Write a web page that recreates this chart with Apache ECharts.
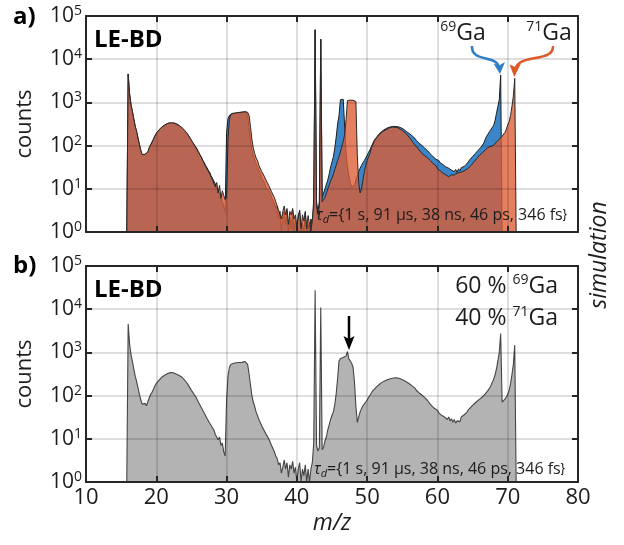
<!DOCTYPE html>
<html><head><meta charset="utf-8">
<script src="https://cdn.jsdelivr.net/npm/echarts/dist/echarts.min.js"></script>
<style>html,body{margin:0;padding:0;background:#fff}#c{width:624px;height:545px}</style>
</head><body><div id="c"></div>
<script>
// histogram bins: first bin centre and bin width (m/z)
const mzStart = 15.8;
const binWidth = 0.2;

// panel b: simulated mixture 60 % 69Ga / 40 % 71Ga (counts per bin)
const countsTotal = [
  1, 4570, 1585, 891, 631, 417, 282, 214, 151, 107,
  79, 63, 59, 66, 58, 72, 89, 107, 120, 141,
  166, 191, 209, 229, 251, 269, 282, 295, 309, 324,
  331, 340, 328, 338, 333, 318, 314, 297, 280, 270,
  245, 231, 210, 193, 170, 153, 132, 122, 106, 95,
  86, 70, 64, 53, 48, 40, 36, 30, 28, 23,
  21, 18, 16, 12.6, 14, 9.5, 11, 7, 8, 5,
  4, 79, 282, 447, 525, 550, 562, 562, 575, 575,
  585, 592, 588, 600, 618, 605, 525, 316, 178, 100,
  71, 56, 42, 38, 28, 26, 20, 18, 15, 13,
  12, 10, 9, 7, 6.6, 5, 4, 3.5, 2.5, 2.8,
  1.6, 2.2, 3.2, 2, 2.8, 1.3, 2.5, 2, 3, 1.6,
  2.2, 1, 2, 2.8, 1, 2, 1.4, 2.5, 1, 2,
  1, 2, 2.8, 8, 27500, 7, 5.2, 6.3, 11000, 5.6,
  6.3, 9, 11, 16, 21, 28, 35, 42, 63, 112,
  251, 631, 724, 776, 759, 794, 832, 1047, 708, 631,
  562, 447, 200, 56, 24, 32, 42, 50, 58, 63,
  71, 79, 91, 102, 115, 129, 141, 151, 162, 174,
  182, 197, 202, 216, 217, 231, 232, 242, 244, 252,
  248, 258, 250, 255, 247, 242, 236, 226, 220, 207,
  199, 188, 175, 168, 152, 149, 133, 127, 115, 111,
  103, 93, 90, 81, 77, 69, 67, 58, 57, 50,
  48, 46, 40, 42, 35, 37, 32, 34, 28, 32,
  26, 29, 24, 28, 23, 26, 28, 25, 32, 30,
  36, 40, 41, 47, 49, 55, 58, 64, 67, 73,
  78, 83, 89, 93, 100, 110, 120, 132, 148, 170,
  200, 240, 302, 417, 631, 1000, 2750, 71, 76, 83,
  93, 107, 132, 186, 302, 525, 1480, 1
];

// panel a: pure 69Ga (blue)
const counts69 = [
  1, 4570, 1600, 900, 620, 420, 285, 210, 150, 105,
  76, 60, 56, 62, 57, 70, 88, 105, 122, 140,
  168, 190, 212, 228, 253, 268, 285, 293, 312, 322,
  333, 338, 330, 341, 331, 320, 312, 299, 278, 272,
  243, 233, 208, 195, 168, 155, 130, 124, 104, 97,
  84, 72, 62, 55, 46, 41, 35, 31, 27, 24,
  20, 19, 15, 13, 13, 9, 10, 6.5, 7, 4,
  3, 200, 417, 501, 540, 555, 565, 560, 570, 578,
  582, 590, 586, 598, 612, 600, 501, 251, 126, 79,
  60, 48, 38, 33, 26, 23, 18, 16, 14, 11,
  11, 9, 8, 6.3, 6, 4.5, 3.5, 4, 2, 3,
  1, 2.5, 3, 1.5, 3, 1, 2.2, 1.2, 3.2, 1,
  2, 1, 2.5, 3, 1, 1.6, 1, 2.8, 1, 1.5,
  1, 2, 1.5, 6, 48000, 5, 3, 5, 29000, 6.6,
  8, 10, 11, 16, 22, 32, 42, 55, 89, 158,
  316, 500, 1150, 1200, 1180, 1150, 66, 32, 20, 14,
  11, 11, 12.6, 16, 20, 25, 30, 35, 40, 45,
  52, 60, 70, 80, 95, 112, 132, 145, 160, 178,
  195, 207, 212, 232, 238, 253, 258, 268, 270, 277,
  276, 278, 272, 273, 259, 260, 242, 238, 219, 211,
  198, 190, 175, 168, 152, 147, 132, 128, 113, 111,
  101, 92, 87, 81, 76, 69, 64, 58, 55, 50,
  48, 44, 45, 40, 39, 36, 36, 32, 31, 30,
  29, 27, 30, 25, 28, 24, 29, 26, 31, 30,
  33, 35, 38, 42, 47, 51, 56, 61, 66, 72,
  78, 84, 92, 102, 115, 140, 165, 185, 210, 235,
  260, 295, 380, 560, 800, 1150, 4300, 1, 1, 1,
  1, 1, 1, 1, 1, 1, 1, 1
];

// panel a: pure 71Ga (orange)
const counts71 = [
  1, 4500, 1580, 880, 630, 410, 280, 215, 148, 108,
  78, 62, 58, 63, 59, 72, 90, 104, 119, 142,
  165, 192, 208, 230, 250, 270, 280, 297, 307, 325,
  330, 336, 333, 337, 329, 317, 315, 294, 283, 268,
  246, 228, 212, 190, 172, 150, 136, 118, 108, 92,
  87, 70, 65, 54, 49, 39, 37, 29, 29, 22,
  22, 16, 17, 11, 14, 8, 12, 6, 9, 7,
  5.6, 6.3, 126, 398, 525, 550, 560, 565, 572, 575,
  585, 588, 592, 596, 610, 608, 590, 501, 282, 141,
  89, 66, 52, 45, 35, 32, 25, 22, 19, 16,
  15, 12, 11, 8.5, 8, 6.3, 5, 4.5, 3.2, 3.5,
  2, 3, 4, 2.5, 3.5, 1.5, 3, 2.5, 3.5, 2,
  2.5, 1.3, 2.2, 3.2, 1.2, 2.5, 1.8, 3, 1.2, 2.4,
  1.5, 1, 2, 4, 48000, 4, 2.5, 4, 29000, 5,
  5.6, 6.3, 7.9, 10, 12, 15, 18, 22, 28, 35,
  45, 56, 71, 95, 126, 178, 400, 1100, 1150, 1130,
  1150, 1120, 1100, 1050, 60, 14, 8, 10, 16, 25,
  35, 45, 55, 66, 89, 105, 126, 141, 155, 170,
  185, 200, 210, 220, 230, 240, 251, 258, 265, 268,
  270, 265, 262, 258, 251, 235, 224, 212, 200, 185,
  170, 155, 141, 126, 112, 105, 95, 89, 79, 72,
  66, 60, 58, 55, 52, 48, 45, 41, 38, 35,
  34, 29, 30, 26, 27, 23, 24, 21, 22, 19,
  20, 21, 19, 21, 20, 23, 21, 24, 23, 25,
  26, 27, 29, 30, 32, 35, 38, 42, 46, 50,
  55, 60, 63, 68, 72, 80, 87, 90, 93, 96,
  100, 102, 110, 120, 130, 141, 148, 165, 178, 200,
  240, 300, 355, 500, 800, 1400, 3600, 1
];

const xMin = 10, xMax = 80, xStep = 10;
const yMin = 1, yMax = 100000;
const tauText = '={1 s, 91 µs, 38 ns, 46 ps, 346 fs}';

const FONT = "'Open Sans', 'Noto Sans', sans-serif";
const INK = '#1c1c1c';
const AX = '#262626';
const GRID = 'rgba(0,0,0,0.13)';

function toPairs(arr) {
  return arr.map((c, i) => [Math.round((mzStart + i * binWidth) * 10) / 10, c]);
}

const chart = echarts.init(document.getElementById('c'), null, {renderer: 'canvas'});

function xAxisDef(grid, pos, labels) {
  return {
    type: 'value', gridIndex: grid, position: pos, min: xMin, max: xMax, interval: xStep, z: 5,
    axisLine: {show: true, onZero: false, lineStyle: {color: AX, width: 2}},
    axisTick: {show: true, inside: true, length: 6, lineStyle: {color: AX, width: 2}},
    axisLabel: {show: labels, fontSize: 22, fontFamily: FONT, color: INK, margin: 5},
    splitLine: {show: pos === 'top', lineStyle: {color: GRID, width: 2}},
    name: labels ? 'm/z' : '', nameLocation: 'middle', nameGap: 30,
    nameTextStyle: {fontSize: 23, fontFamily: FONT, fontStyle: 'italic', color: INK}
  };
}
function yAxisDef(grid, pos) {
  const left = pos === 'left';
  return {
    type: 'log', logBase: 10, gridIndex: grid, position: pos, min: yMin, max: yMax, z: 5,
    axisLine: {show: true, onZero: false, lineStyle: {color: AX, width: 2}},
    axisTick: {show: true, inside: true, length: 6, lineStyle: {color: AX, width: 2}},
    axisLabel: {
      show: left, margin: 4,
      formatter: v => '{b|10}{s|' + Math.round(Math.log10(v)) + '}',
      rich: {
        b: {fontSize: 21, fontFamily: FONT, color: INK, lineHeight: 24},
        s: {fontSize: 14, fontFamily: FONT, color: INK, verticalAlign: 'top', lineHeight: 13}
      }
    },
    splitLine: {show: !left, lineStyle: {color: GRID, width: 2}},
    name: left ? 'counts' : '', nameLocation: 'middle', nameGap: 50,
    nameTextStyle: {fontSize: 22, fontFamily: FONT, color: INK}
  };
}

const supRich = {
  s: {fontSize: 14, fontFamily: FONT, fill: INK, verticalAlign: 'top', lineHeight: 14},
  g: {fontSize: 23, fontFamily: FONT, fill: INK, lineHeight: 26}
};
const tauRich = {
  t: {fontSize: 16, fontFamily: FONT, fontStyle: 'italic', fill: INK, lineHeight: 20},
  d: {fontSize: 11, fontFamily: FONT, fontStyle: 'italic', fill: INK, verticalAlign: 'bottom', lineHeight: 11},
  r: {fontSize: 16, fontFamily: FONT, fill: INK, lineHeight: 20}
};

const option = {
  animation: false,
  backgroundColor: '#fff',
  grid: [
    {left: 86, top: 16, width: 492, height: 216},
    {left: 86, top: 266, width: 492, height: 216}
  ],
  xAxis: [xAxisDef(0, 'bottom', false), xAxisDef(0, 'top', false), xAxisDef(1, 'bottom', true), xAxisDef(1, 'top', false)],
  yAxis: [yAxisDef(0, 'left'), yAxisDef(0, 'right'), yAxisDef(1, 'left'), yAxisDef(1, 'right')],
  series: [
    {
      name: '69Ga', type: 'line', xAxisIndex: 0, yAxisIndex: 0, data: toPairs(counts69),
      symbol: 'none', z: 2,
      lineStyle: {color: '#1e1e1e', width: 1},
      areaStyle: {color: '#3b86c8', opacity: 1, origin: 'start'}
    },
    {
      name: '71Ga', type: 'line', xAxisIndex: 0, yAxisIndex: 0, data: toPairs(counts71),
      symbol: 'none', z: 3,
      lineStyle: {color: '#2a2a2a', width: 1},
      areaStyle: {color: 'rgb(220,92,51)', opacity: 0.78, origin: 'start'}
    },
    {
      name: 'mix', type: 'line', xAxisIndex: 2, yAxisIndex: 2, data: toPairs(countsTotal),
      symbol: 'none', z: 2,
      lineStyle: {color: '#454545', width: 1.1},
      areaStyle: {color: '#b3b3b3', opacity: 1, origin: 'start'}
    }
  ],
  graphic: [
    {type: 'text', x: 13, y: 17, style: {text: 'a)', font: 'bold 24px ' + FONT, fill: '#000', verticalAlign: 'middle'}},
    {type: 'text', x: 13, y: 266, style: {text: 'b)', font: 'bold 24px ' + FONT, fill: '#000', verticalAlign: 'middle'}},
    {type: 'text', x: 94, y: 40, z: 10, style: {text: 'LE-BD', font: 'bold 24px ' + FONT, fill: '#000', verticalAlign: 'middle'}},
    {type: 'text', x: 94, y: 290, z: 10, style: {text: 'LE-BD', font: 'bold 24px ' + FONT, fill: '#000', verticalAlign: 'middle'}},
    {type: 'text', x: 463, y: 33, z: 10, style: {text: '{s|69}{g|Ga}', align: 'center', verticalAlign: 'middle', rich: supRich}},
    {type: 'text', x: 549, y: 33, z: 10, style: {text: '{s|71}{g|Ga}', align: 'center', verticalAlign: 'middle', rich: supRich}},
    {type: 'text', x: 558, y: 286, z: 10, style: {text: '{g|60 % }{s|69}{g|Ga}', align: 'right', verticalAlign: 'middle', rich: supRich}},
    {type: 'text', x: 558, y: 318, z: 10, style: {text: '{g|40 % }{s|71}{g|Ga}', align: 'right', verticalAlign: 'middle', rich: supRich}},
    {type: 'text', x: 316, y: 215, z: 10, style: {text: '{t|τ}{d|d}{r|' + tauText + '}', verticalAlign: 'middle', rich: tauRich}},
    {type: 'text', x: 314, y: 469, z: 10, style: {text: '{t|τ}{d|d}{r|' + tauText + '}', verticalAlign: 'middle', rich: tauRich}},
    {type: 'text', x: 599, y: 255, rotation: Math.PI / 2, style: {text: 'simulation', font: 'italic 23px ' + FONT, fill: INK, align: 'center', verticalAlign: 'middle'}},
    // annotation arrows
    {type: 'bezierCurve', z: 10, shape: {x1: 472, y1: 46, cpx1: 471, cpy1: 62, cpx2: 495, cpy2: 55, x2: 498.5, y2: 66}, style: {stroke: '#2f7fc4', lineWidth: 2.5, fill: null}},
    {type: 'polygon', z: 10, shape: {points: [[500, 74], [493.5, 63.5], [499, 65.5], [505, 62]]}, style: {fill: '#2f7fc4'}},
    {type: 'bezierCurve', z: 10, shape: {x1: 553, y1: 46, cpx1: 554, cpy1: 62, cpx2: 522, cpy2: 54, x2: 516, y2: 67}, style: {stroke: '#dc5a28', lineWidth: 2.5, fill: null}},
    {type: 'polygon', z: 10, shape: {points: [[514.3, 77], [509.5, 64.5], [515.5, 67], [521, 63.5]]}, style: {fill: '#dc5a28'}},
    {type: 'line', z: 10, shape: {x1: 349, y1: 316, x2: 349, y2: 340}, style: {stroke: '#000', lineWidth: 2.5}},
    {type: 'polygon', z: 10, shape: {points: [[349, 350], [343.5, 336], [349, 339], [354.5, 336]]}, style: {fill: '#000'}}
  ]
};
chart.setOption(option);
</script>
</body></html>
